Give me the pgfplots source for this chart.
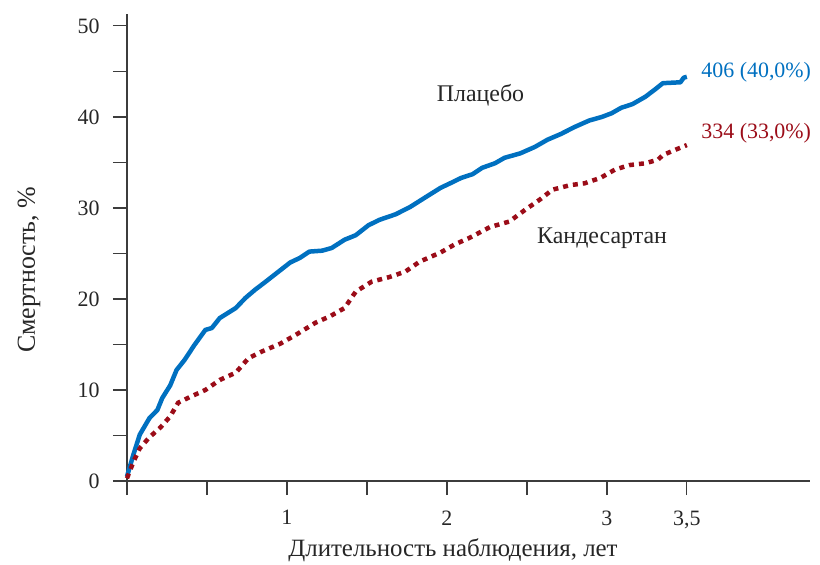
\documentclass[border=0pt]{standalone}
\usepackage{pgfplots}
\pgfplotsset{compat=1.18}
\usepackage{fontspec}
\setmainfont{Liberation Serif}
\definecolor{plblue}{RGB}{0,112,192}
\definecolor{cdred}{RGB}{155,12,24}
\definecolor{axgray}{RGB}{60,60,60}
\begin{document}
\begin{tikzpicture}
\begin{axis}[
  name=ax,
  at={(0,0)}, anchor=south west,
  scale only axis,
  width=683bp, height=467bp,
  xmin=0, xmax=4.27, ymin=0, ymax=51.3,
  axis lines=left,
  axis line style={-, line width=1.3bp, axgray},
  tick style={line width=1.3bp, axgray},
  tick align=outside,
  major tick length=14bp,
  xtick={0,0.5,1,1.5,2,2.5,3,3.5},
  xticklabels={,,1,,2,,3,{3,5}},
  ytick={0,5,10,15,20,25,30,35,40,45,50},
  yticklabels={0,,10,,20,,30,,40,,50},
  /pgf/number format/assume math mode=true,
  tick label style={font=\fontsize{22}{26}\selectfont, text=black!85},
  xticklabel style={yshift=-12bp},
  yticklabel style={xshift=-10bp},
  clip=false,
]
\addplot[plblue, line width=4.5bp, line join=round] coordinates {
(0,0.5) (0.04,2.9) (0.08,5.1) (0.14,6.9) (0.19,7.8) (0.22,9.1) (0.27,10.5)
(0.31,12.2) (0.36,13.3) (0.42,14.9) (0.49,16.6) (0.53,16.8) (0.58,17.9)
(0.68,19.0) (0.74,20.1) (0.8,21.0) (0.86,21.8) (0.94,22.9) (1.02,24.0)
(1.08,24.5) (1.14,25.2) (1.22,25.3) (1.28,25.6) (1.36,26.5) (1.43,27.0)
(1.51,28.1) (1.58,28.7) (1.68,29.3) (1.77,30.1) (1.86,31.1) (1.96,32.2)
(2.02,32.7) (2.09,33.3) (2.16,33.7) (2.22,34.4) (2.3,34.9) (2.36,35.5)
(2.46,36.0) (2.55,36.7) (2.63,37.5) (2.71,38.1) (2.8,38.9) (2.89,39.6)
(2.97,40.0) (3.03,40.4) (3.09,41.0) (3.16,41.4) (3.24,42.2) (3.3,43.0)
(3.35,43.7) (3.46,43.8) (3.48,44.3) (3.5,44.4)
};
\addplot[cdred, line width=4.5bp, dash pattern=on 5bp off 5bp] coordinates {
(0,0.3) (0.04,2.1) (0.08,3.6) (0.14,4.8) (0.21,5.9) (0.27,7.1) (0.32,8.6)
(0.39,9.2) (0.49,10.0) (0.58,11.1) (0.68,11.9) (0.76,13.5) (0.84,14.2)
(0.96,15.1) (1.05,16.0) (1.18,17.4) (1.27,18.1) (1.36,19.0) (1.43,20.8)
(1.53,21.9) (1.64,22.4) (1.74,23.0) (1.83,24.1) (1.96,25.1) (2.05,26.0)
(2.14,26.7) (2.27,27.9) (2.39,28.5) (2.49,29.8) (2.58,30.9) (2.66,32.0)
(2.77,32.5) (2.86,32.7) (2.96,33.3) (3.05,34.2) (3.14,34.7) (3.24,34.9)
(3.32,35.3) (3.35,35.8) (3.43,36.4) (3.5,36.9)
};
\node[font=\fontsize{24}{28}\selectfont, text=black!85] at (axis cs:2.21,42.4) {Плацебо};
\node[font=\fontsize{24}{28}\selectfont, text=black!85] at (axis cs:2.97,26.7) {Кандесартан};
\node[font=\fontsize{22}{26}\selectfont, text=plblue, anchor=west, inner sep=0pt] at (axis cs:3.59,44.9) {406 (40,0\%)};
\node[font=\fontsize{22}{26}\selectfont, text=cdred, anchor=west, inner sep=0pt] at (axis cs:3.59,38.2) {334 (33,0\%)};
\end{axis}
\node[font=\fontsize{25}{29}\selectfont, text=black!85] at (326bp,-69bp) {Длительность наблюдения, лет};
\node[font=\fontsize{26}{30}\selectfont, text=black!85, rotate=90] at (-98bp,211bp) {Смертность, \%};
\path[use as bounding box] (-127bp,-79bp) rectangle (693bp,481bp);
\end{tikzpicture}
\end{document}
